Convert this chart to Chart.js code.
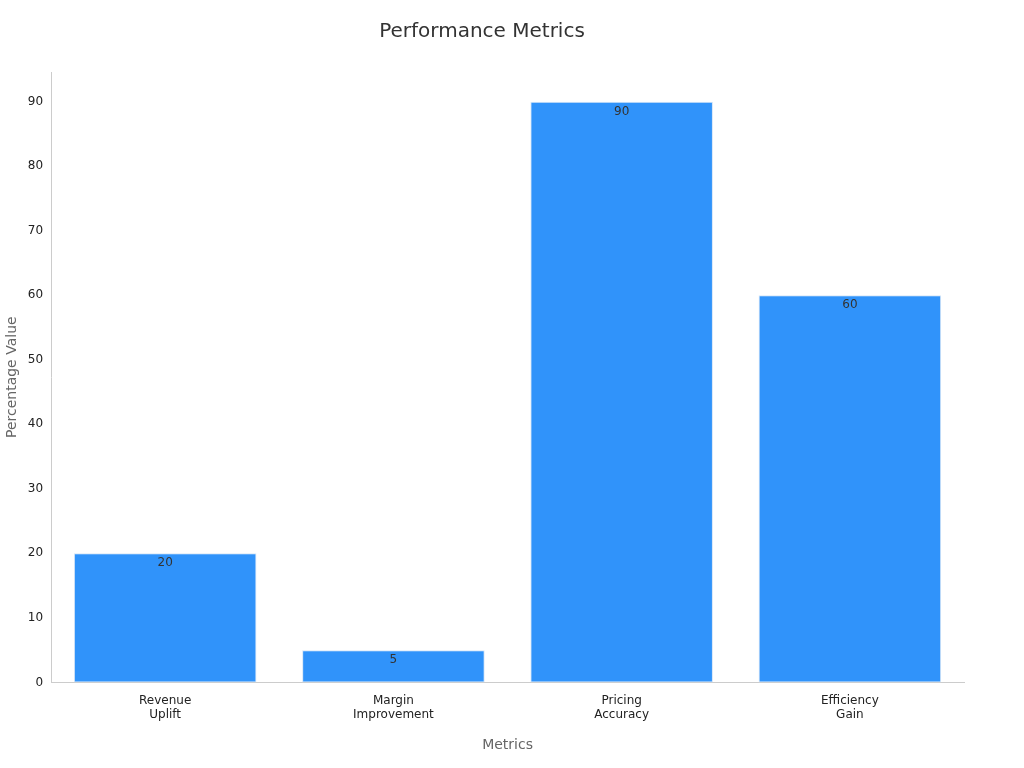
<!DOCTYPE html>
<html>
<head>
<meta charset="utf-8">
<script src="https://cdn.jsdelivr.net/npm/chart.js@4"></script>
<style>
  body { margin: 0; background: #fff; }
  #wrap { width: 1024px; height: 768px; }
</style>
</head>
<body>
<div id="wrap"><canvas id="chart"></canvas></div>
<script>
const categories = [['Revenue', 'Uplift'], ['Margin', 'Improvement'], ['Pricing', 'Accuracy'], ['Efficiency', 'Gain']];
const values = [20, 5, 90, 60];

Chart.defaults.font.family = '"DejaVu Sans", sans-serif';

const valueLabels = {
    id: 'valueLabels',
    afterDatasetsDraw(chart) {
        const ctx = chart.ctx;
        const meta = chart.getDatasetMeta(0);
        ctx.save();
        ctx.font = '12px "DejaVu Sans", sans-serif';
        ctx.fillStyle = '#333';
        ctx.textAlign = 'center';
        ctx.textBaseline = 'top';
        meta.data.forEach((bar, i) => {
            ctx.fillText(values[i], bar.x, bar.y + 4);
        });
        ctx.restore();
    }
};

new Chart(document.getElementById('chart'), {
    type: 'bar',
    data: {
        labels: categories,
        datasets: [{
            data: values,
            backgroundColor: '#3093fa',
            borderColor: '#d6e6f7',
            borderWidth: 1,
            borderSkipped: false,
            barPercentage: 0.8,
            categoryPercentage: 1.0
        }]
    },
    options: {
        responsive: true,
        maintainAspectRatio: false,
        animation: false,
        layout: { padding: { left: 0, right: 60, top: 10, bottom: 10 } },
        plugins: {
            legend: { display: false },
            tooltip: { enabled: false },
            title: {
                display: true,
                text: 'Performance Metrics',
                color: '#333',
                font: { size: 20, weight: 'normal' },
                padding: { top: 10, bottom: 28 }
            }
        },
        scales: {
            x: {
                grid: { display: false, drawTicks: true },
                border: { color: '#ccc' },
                ticks: { color: '#222', font: { size: 12 } },
                title: { display: true, text: 'Metrics', color: '#666', font: { size: 14 }, padding: { top: 12 } }
            },
            y: {
                min: 0,
                max: 94.6,
                grid: { display: false, drawOnChartArea: false, drawTicks: true, tickLength: 5, tickColor: '#999' },
                border: { color: '#ccc' },
                ticks: { stepSize: 10, color: '#222', font: { size: 12 },
                    callback: v => (v % 10 === 0 ? v : '') },
                title: { display: true, text: 'Percentage Value', color: '#666', font: { size: 14 } }
            }
        }
    },
    plugins: [valueLabels]
});
</script>
</body>
</html>
